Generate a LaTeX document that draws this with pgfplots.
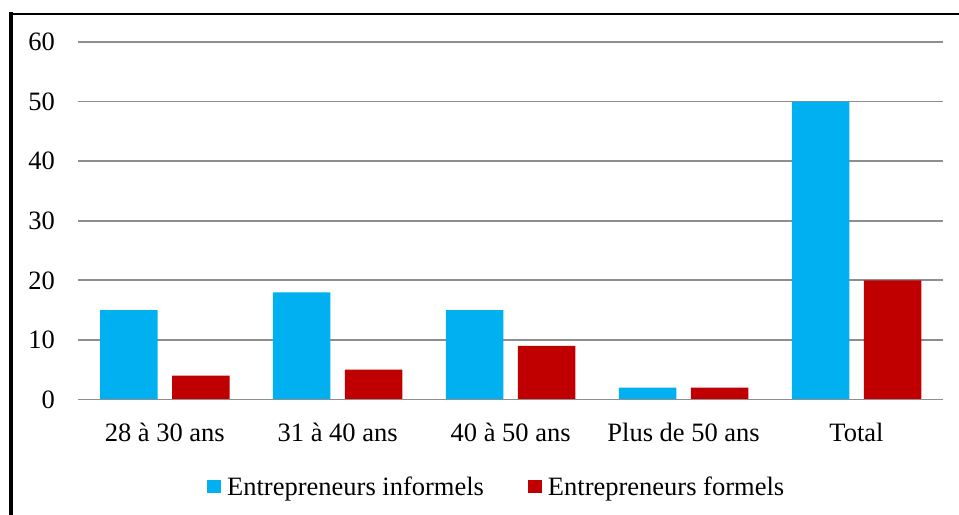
\documentclass[border=0pt]{standalone}
\usepackage{pgfplots}
\pgfplotsset{compat=1.18}
\usepackage{fontspec}
\setmainfont{Liberation Serif}
\definecolor{cblue}{HTML}{00B0F0}
\definecolor{cred}{HTML}{C00000}
\definecolor{cgrid}{HTML}{8E8E8E}
\begin{document}
\begin{tikzpicture}
\path[use as bounding box] (0,0) rectangle (959bp,515bp);
\begin{axis}[
  at={(78.3bp,115.5bp)}, anchor=south west,
  scale only axis, width=864.7bp, height=357.5bp,
  font=\fontsize{26.5bp}{31bp}\selectfont,
  /pgf/number format/assume math mode=true,
  ybar=14.5bp, bar width=57.5bp,
  xmin=-0.5, xmax=4.5, ymin=0, ymax=60,
  xtick={0,1,2,3,4},
  xticklabels={28 à 30 ans,31 à 40 ans,40 à 50 ans,Plus de 50 ans,Total},
  ytick={0,10,20,30,40,50,60},
  major tick length=0pt,
  ymajorgrids, grid style={cgrid, line width=1.7bp},
  axis lines*=left,
  axis line style={draw=none},
  xticklabel style={anchor=base, inner sep=0pt, yshift=-41.5bp},
  yticklabel style={anchor=east, inner sep=0pt, xshift=-23.3bp},
  legend columns=2,
  legend style={at={(0.1488,-0.2454)}, anchor=west, draw=none, fill=none, inner sep=0pt,
    nodes={inner sep=0pt, anchor=base west},
    /tikz/every odd column/.append style={column sep=6bp},
    /tikz/every even column/.append style={column sep=44bp},
    font=\fontsize{26.5bp}{31bp}\selectfont},
  legend image code/.code={\fill[#1,draw=none] (0bp,2.6bp) rectangle (14bp,16bp);},
  clip=false,
]
\addplot[fill=cblue, draw=none] coordinates {(0,15) (1,18) (2,15) (3,2) (4,50)};
\addplot[fill=cred, draw=none] coordinates {(0,4) (1,5) (2,9) (3,2) (4,20)};
\legend{Entrepreneurs informels, Entrepreneurs formels}
\draw[cgrid, line width=1.7bp] (rel axis cs:0,0) -- (rel axis cs:1,0);
\end{axis}
\draw[line width=4bp] (11.3bp,0bp) -- (11.3bp,502.5bp);
\draw[line width=2.7bp] (9.3bp,501bp) -- (959bp,501bp);
\end{tikzpicture}
\end{document}
